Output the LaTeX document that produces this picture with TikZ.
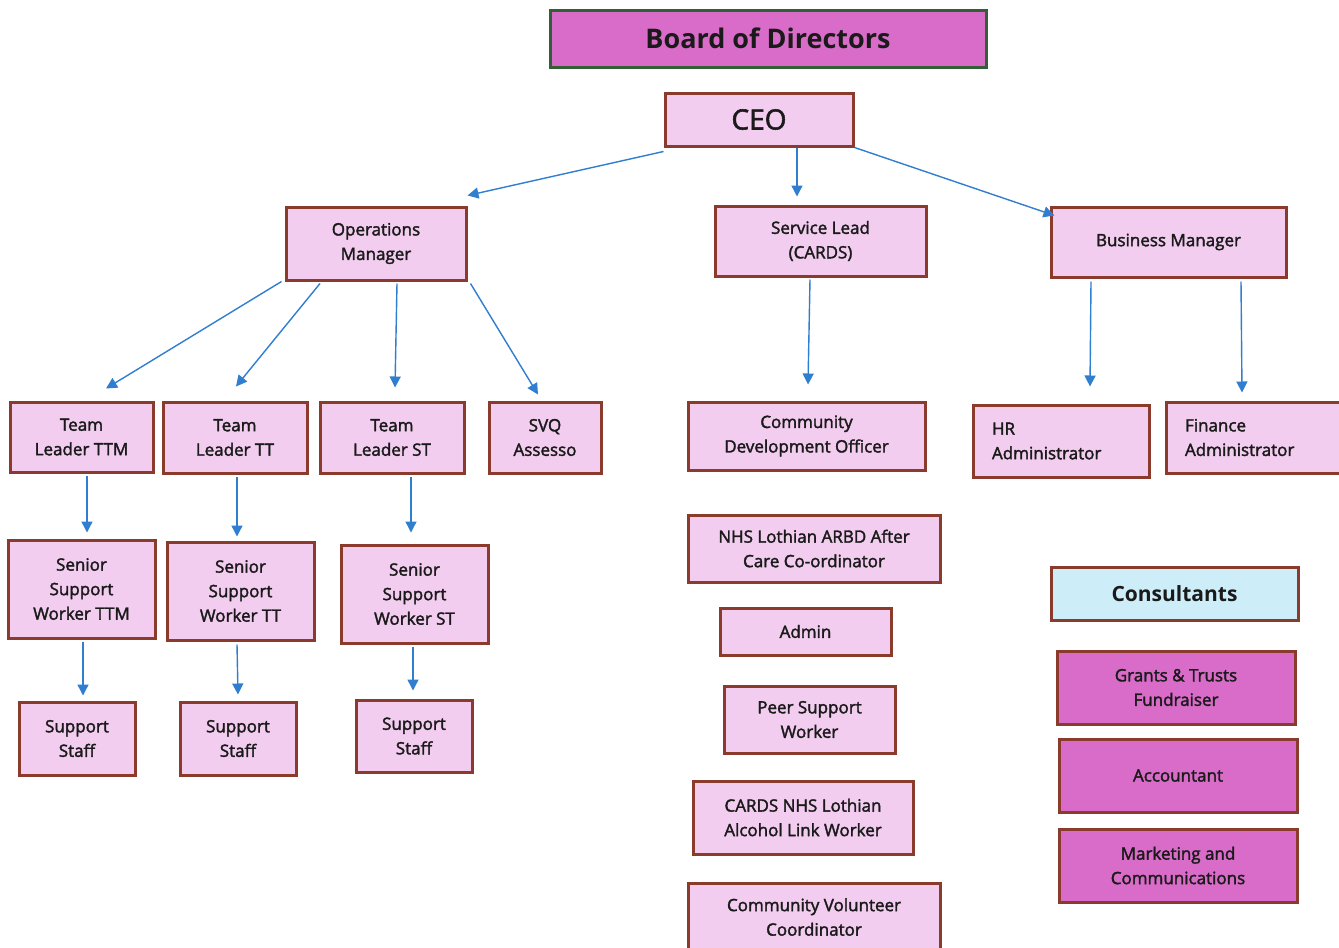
\documentclass[tikz,border=0pt]{standalone}
\usepackage{fontspec}
\setmainfont{Open Sans}
\newfontfamily\medfont{Open Sans}[FakeBold=2]
\usetikzlibrary{arrows.meta}
\definecolor{pinkfill}{HTML}{F2CDEF}
\definecolor{magfill}{HTML}{D86CC8}
\definecolor{bluefill}{HTML}{CDEEF9}
\definecolor{brownline}{HTML}{8A3B2C}
\definecolor{greenline}{HTML}{345E36}
\definecolor{arrowblue}{HTML}{2F7ED0}
\definecolor{txt}{HTML}{1A1A1A}
\tikzset{
  box/.style={draw=brownline, line width=3pt, fill=pinkfill, inner sep=0pt, align=center,
    text=txt, font=\medfont\fontsize{17}{24.5}\selectfont},
  magbox/.style={box, fill=magfill},
  leftbox/.style={box, align=left, inner xsep=19pt, inner ysep=0pt},
  arr/.style={draw=arrowblue, line width=1.4pt, -{Triangle[width=11pt,length=11pt]}},
}
\newcommand\bx[5]{\node[#1, minimum width=#4pt, minimum height=#5pt] #2 at #3}
\begin{document}
\begin{tikzpicture}[x=1pt,y=-1pt]
\useasboundingbox (0,0) rectangle (1339,948);
\clip (0,0) rectangle (1339,948);
\fill[white] (0,0) rectangle (1339,948);
% top
\bx{box, draw=greenline, fill=magfill, font=\fontsize{27}{30}\selectfont\bfseries}{(board)}{(768,38.5)}{436}{57} {Board of Directors};
\bx{box, font=\medfont\fontsize{28}{30}\selectfont}{(ceo)}{(759,119.5)}{188}{53} {CEO};
% level 2
\bx{box}{(ops)}{(376,243.5)}{180}{73} {Operations\\Manager};
\bx{box}{(svc)}{(820.5,241)}{211}{70} {Service Lead\\(CARDS)};
\bx{box}{(bus)}{(1168.5,242)}{235}{70} {Business Manager};
% level 3
\bx{box}{(tl1)}{(81.5,437)}{143}{70} {Team\\Leader TTM};
\bx{box}{(tl2)}{(235,437.5)}{144}{71} {Team\\Leader TT};
\bx{box}{(tl3)}{(392,437.5)}{144}{71} {Team\\Leader ST};
\bx{box}{(svq)}{(545,437.5)}{112}{71} {SVQ\\Assesso};
\bx{box}{(cdo)}{(806.5,436)}{237}{68} {Community\\Development Officer};
\bx{leftbox, text width=138pt}{(hr)}{(1061,441)}{176}{72} {HR\\Administrator};
\bx{leftbox, text width=141pt}{(fin)}{(1255.5,437.5)}{179}{71} {Finance\\Administrator};
% level 4
\bx{box}{(ss1)}{(81.5,589)}{147}{98} {Senior\\Support\\Worker TTM};
\bx{box}{(ss2)}{(240.5,591)}{147}{98} {Senior\\Support\\Worker TT};
\bx{box}{(ss3)}{(414.5,594)}{147}{98} {Senior\\Support\\Worker ST};
% level 5
\bx{box}{(st1)}{(77,738.5)}{116}{73} {Support\\Staff};
\bx{box}{(st2)}{(238,738.5)}{116}{73} {Support\\Staff};
\bx{box}{(st3)}{(414,736)}{116}{72} {Support\\Staff};
% CARDS column
\bx{box}{(nhs)}{(814,548.5)}{252}{67} {NHS Lothian ARBD After\\Care Co-ordinator};
\bx{box}{(admin)}{(805.5,631.5)}{171}{47} {Admin};
\bx{box}{(peer)}{(809.5,719.5)}{171}{67} {Peer Support\\Worker};
\bx{box}{(cards)}{(803,817.5)}{220}{73} {CARDS NHS Lothian\\Alcohol Link Worker};
\bx{box}{(cvc)}{(814,917)}{252}{68} {Community Volunteer\\Coordinator};
% consultants
\bx{box, fill=bluefill, font=\fontsize{21}{24}\selectfont\bfseries}{(cons)}{(1174.5,593.5)}{247}{53} {Consultants};
\bx{magbox}{(grants)}{(1176,687.5)}{238}{73} {Grants \& Trusts\\Fundraiser};
\bx{magbox}{(acct)}{(1178,775.5)}{238}{73} {Accountant};
\bx{magbox}{(mkt)}{(1178,865.5)}{238}{73} {Marketing and\\Communications};
% connectors
\draw[arr] ([yshift=-4pt]ceo.south west) -- ([yshift=10pt]ops.north east);
\draw[arr] ([xshift=38pt]ceo.south) -- ([xshift=-23.5pt,yshift=8pt]svc.north);
\draw[arr] (ceo.south east) -- ([xshift=5pt,yshift=-10pt]bus.north west);
\draw[arr] ([xshift=-3pt]ops.south west) -- ([xshift=24.5pt,yshift=12pt]tl1.north);
\draw[arr] ([xshift=-56pt,yshift=-2pt]ops.south) -- ([xshift=1pt,yshift=14pt]tl2.north);
\draw[arr] ([xshift=21pt,yshift=-2pt]ops.south) -- ([xshift=3pt,yshift=13pt]tl3.north);
\draw[arr] ([xshift=3pt,yshift=-2pt]ops.south east) -- ([xshift=-7pt,yshift=6pt]svq.north);
\draw[arr] ([xshift=-10.5pt,yshift=-2pt]svc.south) -- ([xshift=1.5pt,yshift=16pt]cdo.north);
\draw[arr] ([xshift=-77.5pt,yshift=-3pt]bus.south) -- ([xshift=29pt,yshift=17pt]hr.north);
\draw[arr] ([xshift=72.5pt,yshift=-3pt]bus.south) -- ([xshift=-13.5pt,yshift=8pt]fin.north);
\draw[arr] ([xshift=5.5pt,yshift=-2pt]tl1.south) -- ([xshift=5.5pt,yshift=6pt]ss1.north);
\draw[arr] ([xshift=2pt,yshift=-2pt]tl2.south) -- ([xshift=-3.5pt,yshift=4pt]ss2.north);
\draw[arr] ([xshift=19pt,yshift=-2pt]tl3.south) -- ([xshift=-3.5pt,yshift=11pt]ss3.north);
\draw[arr] ([xshift=1.5pt,yshift=-2pt]ss1.south) -- ([xshift=6pt,yshift=5pt]st1.north);
\draw[arr] ([xshift=-3.5pt,yshift=-3pt]ss2.south) -- ([yshift=6pt]st2.north);
\draw[arr] ([xshift=-1.5pt,yshift=-2pt]ss3.south) -- ([xshift=-1pt,yshift=8pt]st3.north);
\end{tikzpicture}
\end{document}
